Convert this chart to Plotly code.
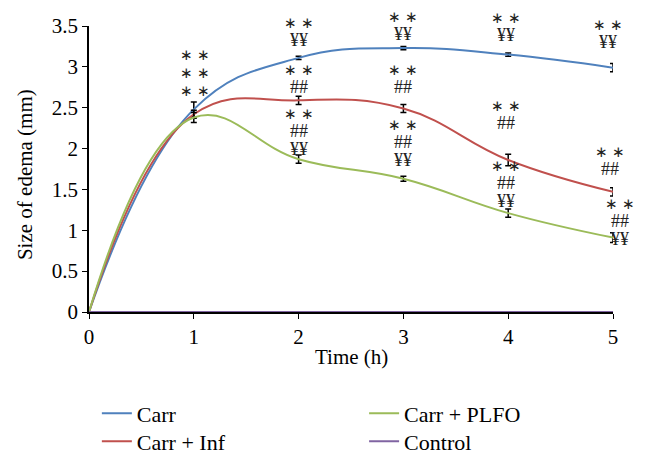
import plotly.graph_objects as go

# time points (h)
hours = [0, 1, 2, 3, 4, 5]

# edema size (mm) and SEM for each group
carr = [0, 2.48, 3.11, 3.23, 3.15, 2.99]
carr_err = [0, 0.09, 0.02, 0.02, 0.02, 0.05]
carr_inf = [0, 2.42, 2.59, 2.49, 1.86, 1.47]
carr_inf_err = [0, 0.05, 0.05, 0.05, 0.07, 0.05]
carr_plfo = [0, 2.38, 1.87, 1.63, 1.21, 0.91]
carr_plfo_err = [0, 0.06, 0.05, 0.03, 0.05, 0.06]
control = [0, 0, 0, 0, 0, 0]

# significance marks, stacked per group: (time, centre value, lines)
sig_marks = [
    (1.01, 2.92, ["∗ ∗", "∗ ∗", "∗ ∗"]),
    (2, 3.42, ["∗ ∗", "¥¥"]),
    (2, 2.84, ["∗ ∗", "##"]),
    (2, 2.20, ["∗ ∗", "##", "¥¥"]),
    (3, 3.50, ["∗ ∗", "¥¥"]),
    (3, 2.84, ["∗ ∗", "##"]),
    (3, 2.06, ["∗ ∗", "##", "¥¥"]),
    (3.98, 3.485, ["∗ ∗", "¥¥"]),
    (3.98, 2.40, ["∗ ∗", "##"]),
    (3.98, 1.555, ["∗ ∗", "##", "¥¥"]),
    (4.95, 3.39, ["∗ ∗", "¥¥"]),
    (4.97, 1.84, ["∗ ∗", "##"]),
    (5.07, 1.09, ["∗ ∗", "##", "¥¥"]),
]

FONT = "Liberation Serif"
PX_PER_HOUR = (648 - 81 - 43) / 5


def mark_line(s):
    size = 15 if s.startswith("∗") else 18
    return '<span style="font-size:%dpx">%s</span>' % (size, s)


fig = go.Figure()

def add_series(name, y, err, color, legend):
    fig.add_trace(go.Scatter(
        x=hours, y=y, name=name, mode="lines",
        line=dict(color=color, width=2, shape="spline", smoothing=1.2),
        error_y=None if err is None else dict(
            type="data", array=err, visible=True,
            color="black", thickness=1.5, width=3),
        legend=legend,
    ))

add_series("Carr", carr, carr_err, "#4F81BD", "legend")
add_series("Carr + Inf", carr_inf, carr_inf_err, "#C0504D", "legend2")
add_series("Carr + PLFO", carr_plfo, carr_plfo_err, "#9BBB59", "legend3")
add_series("Control", control, None, "#8064A2", "legend4")

for x, y, lines in sig_marks:
    # annotations past the axis end are hidden, so clamp and shift in pixels
    shift = max(0, x - 5) * PX_PER_HOUR
    fig.add_annotation(x=min(x, 5), y=y, xshift=shift,
                       text="<br>".join(mark_line(s) for s in lines),
                       showarrow=False,
                       font=dict(family=FONT, size=14, color="#222"),
                       xanchor="center", yanchor="middle")

# axis titles
fig.add_annotation(xref="paper", yref="paper", x=0.5, y=-0.157,
                   xanchor="center", yanchor="middle",
                   text="Time (h)", showarrow=False,
                   font=dict(family=FONT, size=21, color="black"))
fig.add_annotation(xref="paper", yref="paper", x=-0.122, y=0.479,
                   xanchor="center", yanchor="middle",
                   text="Size of edema (mm)", textangle=-90, showarrow=False,
                   font=dict(family=FONT, size=21, color="black"))

legend_style = dict(orientation="v", yanchor="top", xanchor="left",
                    bgcolor="rgba(0,0,0,0)",
                    font=dict(family=FONT, size=22, color="black"))

fig.update_layout(
    width=648, height=462,
    margin=dict(l=81, r=43, t=18, b=158, autoexpand=False),
    plot_bgcolor="white", paper_bgcolor="white",
    font=dict(family=FONT, size=21, color="black"),
    showlegend=True,
    legend=dict(x=0.015, y=-0.281, **legend_style),
    legend2=dict(x=0.015, y=-0.379, **legend_style),
    legend3=dict(x=0.525, y=-0.281, **legend_style),
    legend4=dict(x=0.525, y=-0.379, **legend_style),
    xaxis=dict(range=[0, 5], tickvals=hours, ticks="outside", ticklen=5,
               tickcolor="black", showline=True, linecolor="black",
               linewidth=1.5, showgrid=False, zeroline=False),
    yaxis=dict(range=[0, 3.5], dtick=0.5, ticks="outside", ticklen=5,
               tickcolor="black", showline=True, linecolor="black",
               linewidth=1.5, showgrid=False, zeroline=False),
)

fig.write_html("out.html")
